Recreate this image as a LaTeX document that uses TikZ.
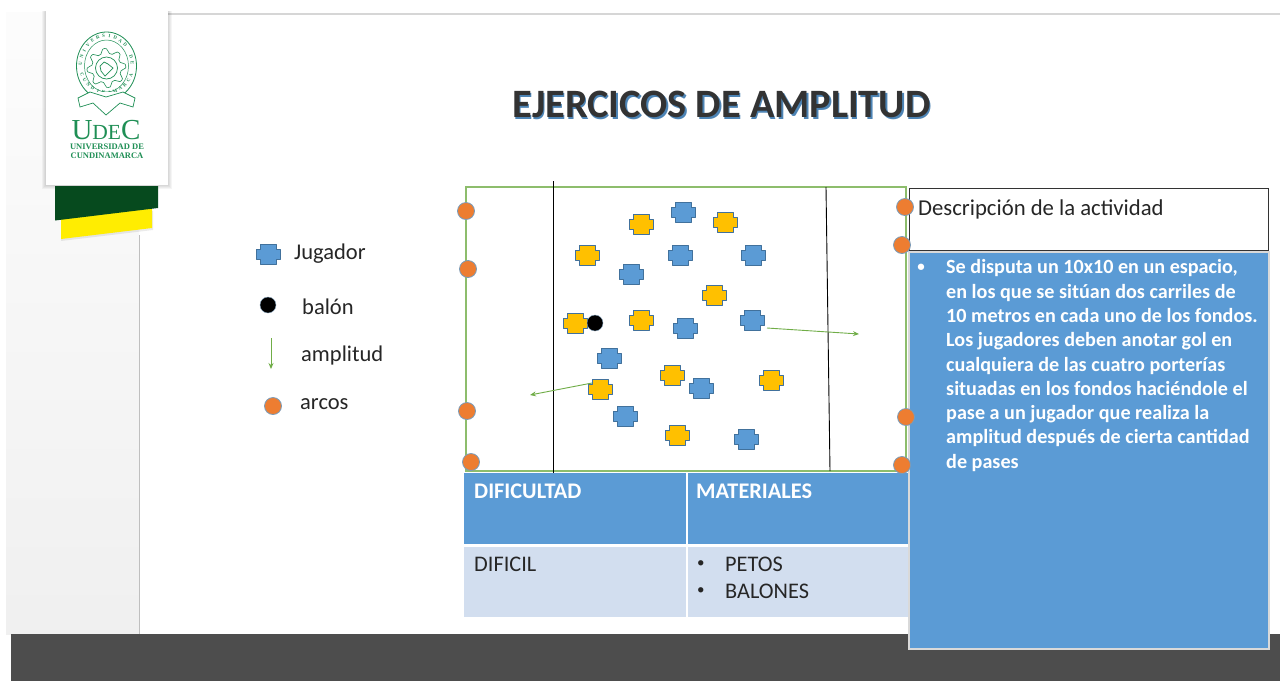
\documentclass[tikz,border=0pt]{standalone}
\usepackage{fontspec}
\setmainfont{Carlito}
\newfontfamily\logofont{Liberation Serif}
\usetikzlibrary{arrows.meta}
\definecolor{pblue}{HTML}{5B9BD5}
\definecolor{pedge}{HTML}{41719C}
\definecolor{pyellow}{HTML}{FFC000}
\definecolor{porange}{HTML}{ED7D31}
\definecolor{pgreen}{HTML}{70AD47}
\definecolor{rowblue}{HTML}{D2DEEF}
\definecolor{logogreen}{HTML}{1F8F55}
\definecolor{darkband}{HTML}{4D4D4D}
\definecolor{ribbongreen}{HTML}{064A1E}
\newcommand{\fs}[1]{\fontsize{#1}{#1}\selectfont}
\tikzset{
  x=1pt,y=-1pt,
  goalmark/.style={circle,fill=porange,draw=pedge!70,line width=.8pt,minimum size=17pt,inner sep=0pt},
  ballmark/.style={circle,fill=black,draw=pedge!60,line width=.4pt,minimum size=16pt,inner sep=0pt},
  ampline/.style={draw=pgreen,line width=.9pt,-{Stealth[length=6pt,width=5pt]}},
  fieldline/.style={draw=black,line width=.9pt},
  plain/.style={anchor=west,inner sep=0pt,text=black!85},
  headtext/.style={anchor=west,inner sep=0pt,text=white,font=\fs{22.3}\bfseries},
  logotext/.style={inner sep=0pt,text=logogreen},
  sealletter/.style={inner sep=0pt,text=logogreen,font=\logofont\fs{4.8}\bfseries},
}
% cross-shaped player mark, centred on a named coordinate
\newcommand{\player}[4]{%
  \coordinate (#1) at (#2,#3);
  \draw[fill=#4,draw=pedge,line width=1pt,line join=round,shift={(#1)}]
    (-12,-5)--(-8,-5)--(-8,-10)--(8,-10)--(8,-5)--(12,-5)--(12,5)--(8,5)--(8,10)--(-8,10)--(-8,5)--(-12,5)--cycle;}
\begin{document}
\begin{tikzpicture}
\useasboundingbox (0,0) rectangle (1280,681);
\fill[white] (0,0) rectangle (1280,681);
% slide background
\shade[top color=white!99!black,bottom color=white!94!black] (6,12) rectangle (139,634);
\draw[black!25,line width=.8pt] (139,235) -- (139,634);
\draw[black!16,line width=1.2pt] (168,14) -- (1280,14);
\fill[darkband] (11,634) rectangle (1280,681);
% logo card
\foreach \d in {4,3,2,1}{\fill[black,opacity=.04] (46-\d,11) rectangle (168+\d,185+\d);}
\fill[white] (46,11) rectangle (168,185);
\fill[black,opacity=.08] (61,222) -- (153,211) -- (153,230) -- (61,241) -- cycle;
\fill[yellow!95!orange] (61,219) -- (152,208) -- (152,228) -- (61,239) -- cycle;
\fill[ribbongreen] (55,186) -- (158,186) -- (158,208) -- (55,220.5) -- cycle;
% seal
\begin{scope}[logogreen]
  \draw[line width=.8pt] (106.5,66) ellipse [x radius=30,y radius=34];
  \draw[line width=.5pt] (106.5,66) ellipse [x radius=22,y radius=26];
  \draw[line width=.7pt] (106.5,68) circle [radius=11];
  \draw[line width=.7pt] (100,66) -- (104,62) -- (108,64) -- (113,68) -- (108,73) -- (105,76) -- (101,71) -- cycle;
  \draw[line width=.6pt] plot[samples=33,domain=0:360,smooth] ({106.5+(17+2.2*(-1)^round(\x/22.5))*cos(\x)},{68+(17+2.2*(-1)^round(\x/22.5))*sin(\x)}) -- cycle;
  \foreach \c [count=\i from 0] in {U,N,I,V,E,R,S,I,D,A,D,{},D,E}{
    \pgfmathsetmacro{\a}{-85+\i*170/13}
    \node[sealletter,rotate=-\a] (st\i) at ({106.5+26*sin(\a)},{66-30*cos(\a)}) {\c};
  }
  \foreach \c [count=\i from 0] in {C,U,N,D,I,N,A,M,A,R,C,A}{
    \pgfmathsetmacro{\a}{-70+\i*140/11}
    \node[sealletter,rotate=\a] (sb\i) at ({106.5+26*sin(\a)},{66+26.5*cos(\a)}) {\c};
  }
  \fill[white] (78,98) -- (90,92) -- (123,92) -- (135,98) -- (133,107) -- (122,102) -- (91,102) -- (80,107) -- cycle;
  \draw[line width=.7pt] (78,98) -- (90,92) -- (106,97) -- (123,92) -- (135,98) -- (133,107) -- (120,103) -- (106,115) -- (93,103) -- (80,107) -- cycle;
\end{scope}
\node[logotext,font=\logofont] (udec) at (106,130) {\fs{29}U\fs{21.5}DE\fs{29}C};
\node[logotext,font=\logofont\bfseries] (udec1) at (107,147) {\fs{8.5}UNIVERSIDAD DE};
\node[logotext,font=\logofont\bfseries] (udec2) at (107,155.5) {\fs{8.5}CUNDINAMARCA};
% title
\node[inner sep=0pt,text=pblue!85!black,font=\fs{40.3}\bfseries] (titleshadow) at (723,106) {EJERCICOS DE AMPLITUD};
\node[inner sep=0pt,text=black!80,font=\fs{40.3}\bfseries] (title) at (721.5,104) {EJERCICOS DE AMPLITUD};
% field
\draw[draw=pgreen!80!white,line width=1.2pt] (466,187) rectangle (906,471);
\draw[fieldline] (553,181) -- (553,474);
\draw[fieldline] (826,187) -- (830,471);
% table
\fill[pblue] (464,473) rectangle (686,544);
\fill[pblue] (688,473) rectangle (908,544);
\fill[rowblue] (464,547) rectangle (686,617);
\fill[rowblue] (688,547) rectangle (908,617);
\node[headtext] (dif) at (474,491) {DIFICULTAD};
\node[headtext] (mat) at (696,491) {MATERIALES};
\node[plain,font=\fs{22.3}] (dific) at (474,564) {DIFICIL};
\node[plain,font=\fs{15}] (b1) at (697,564) {•};
\node[plain,font=\fs{22.3}] (petos) at (725,564) {PETOS};
\node[plain,font=\fs{15}] (b2) at (697,591) {•};
\node[plain,font=\fs{22.3}] (balones) at (725,591) {BALONES};
% description boxes
\draw[draw=black!80,fill=white,line width=1pt] (909,188) rectangle (1268,250);
\node[plain,font=\fs{22.7}] (desc) at (918,209) {Descripción de la actividad};
\draw[draw=white!85!black,fill=pblue,line width=1.4pt] (909,252) rectangle (1269,649);
\node[inner sep=0pt,text=white,font=\fs{15}\bfseries] (bullet) at (921,268) {•};
\node[anchor=north west,inner sep=0pt,text=white,align=left,
  font=\fontsize{20.15}{24.3}\selectfont\bfseries] (body) at (946,259.5)
  {Se disputa un 10x10 en un espacio,\\
   en los que se sitúan dos carriles de\\
   10 metros en cada uno de los fondos.\\
   Los jugadores deben anotar gol en\\
   cualquiera de las cuatro porterías\\
   situadas en los fondos haciéndole el\\
   pase a un jugador que realiza la\\
   amplitud después de cierta cantidad\\
   de pases};
% players
\player{b1p}{683}{212}{pblue}
\player{b2p}{680}{255}{pblue}
\player{b3p}{753}{255}{pblue}
\player{b4p}{631}{274}{pblue}
\player{b5p}{685}{328}{pblue}
\player{b6p}{752}{320}{pblue}
\player{b7p}{609}{358}{pblue}
\player{b8p}{701}{388}{pblue}
\player{b9p}{625}{416}{pblue}
\player{b10p}{746}{439}{pblue}
\player{y1p}{641}{224}{pyellow}
\player{y2p}{725}{222}{pyellow}
\player{y3p}{587}{255}{pyellow}
\player{y4p}{714}{295}{pyellow}
\player{y5p}{575}{323}{pyellow}
\player{y6p}{641}{320}{pyellow}
\player{y7p}{672}{375}{pyellow}
\player{y8p}{600}{389}{pyellow}
\player{y9p}{771}{380}{pyellow}
\player{y10p}{677}{435}{pyellow}
\node[ballmark] (ball) at (595,323) {};
% amplitude arrows
\coordinate (a1s) at (767,328); \coordinate (a1e) at (859,334);
\coordinate (a2s) at (592,383); \coordinate (a2e) at (530,395);
\draw[ampline] (a1s) -- (a1e);
\draw[ampline] (a2s) -- (a2e);
% goals
\node[goalmark] (g1) at (466,211) {};
\node[goalmark] (g2) at (468,269) {};
\node[goalmark] (g3) at (467,411) {};
\node[goalmark] (g4) at (471,462) {};
\node[goalmark] (g5) at (905,207) {};
\node[goalmark] (g6) at (902,245) {};
\node[goalmark] (g7) at (906,417) {};
\node[goalmark] (g8) at (902,465) {};
% legend
\player{lp}{268}{254}{pblue}
\node[plain,font=\fs{22.5}] (l1) at (294,253.5) {Jugador};
\node[ballmark] (lb) at (268,305) {};
\node[plain,font=\fs{22.5}] (l2) at (302,307) {balón};
\coordinate (la1) at (271,338); \coordinate (la2) at (271,369);
\draw[ampline] (la1) -- (la2);
\node[plain,font=\fs{22.5}] (l3) at (301,355) {amplitud};
\node[goalmark] (lg) at (273,406) {};
\node[plain,font=\fs{22.5}] (l4) at (300,404) {arcos};
\end{tikzpicture}
\end{document}
